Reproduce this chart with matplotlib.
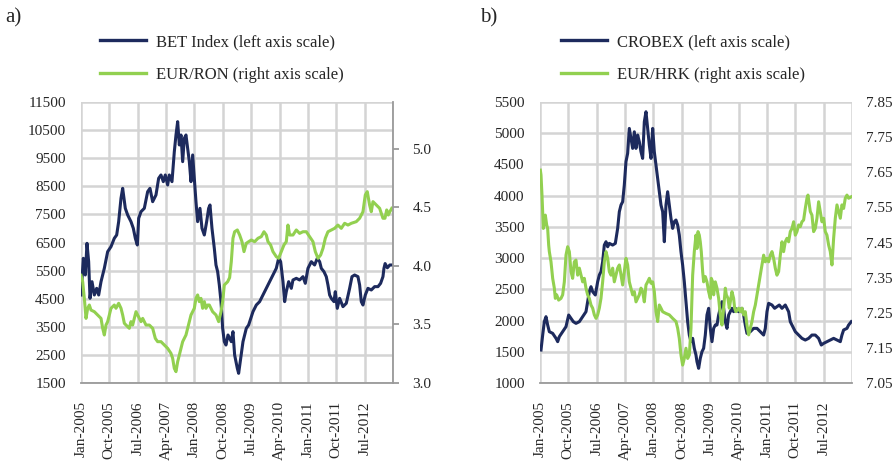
import matplotlib
matplotlib.use("Agg")
import matplotlib.pyplot as plt
from matplotlib.lines import Line2D

plt.rcParams['font.family'] = ['Liberation Serif', 'DejaVu Serif']

# ---------------- data (x = months since Jan-2005) ----------------
tick_labels = ['Jan-2005', 'Oct-2005', 'Jul-2006', 'Apr-2007', 'Jan-2008', 'Oct-2008',
               'Jul-2009', 'Apr-2010', 'Jan-2011', 'Oct-2011', 'Jul-2012']

bet_t = [0.00, 0.74, 1.37, 1.90, 2.43, 2.86, 3.49, 4.23, 4.97, 5.61, 6.35, 7.40, 8.46, 9.52,
         10.57, 11.32, 11.95, 12.69, 13.22, 14.06, 14.81, 15.86, 16.60, 17.24, 17.87, 18.30,
         19.04, 20.09, 21.15, 21.89, 22.74, 23.79, 24.64, 25.38, 26.12, 26.75, 27.50, 28.02,
         28.87, 29.61, 30.14, 30.67, 31.20, 31.73, 32.26, 32.78, 33.31, 33.84, 34.37, 34.90,
         35.43, 35.96, 36.48, 37.01, 37.75, 38.39, 39.13, 39.87, 40.50, 40.93, 41.56, 42.30,
         42.83, 43.36, 43.89, 44.42, 44.95, 45.47, 46.00, 46.64, 47.69, 48.22, 48.75, 49.60,
         50.02, 50.66, 51.40, 52.45, 53.19, 54.57, 55.63, 56.68, 57.74, 58.80, 59.86, 60.91,
         61.97, 62.71, 63.35, 64.09, 64.62, 65.14, 65.89, 66.73, 67.26, 68.32, 69.37, 70.43,
         71.17, 72.02, 73.08, 74.13, 74.98, 75.72, 76.25, 77.09, 77.83, 78.36, 78.89, 79.42,
         80.27, 80.69, 81.32, 82.07, 83.12, 84.18, 85.24, 85.98, 86.82, 87.88, 88.41, 88.94,
         89.47, 90.21, 91.05, 92.11, 93.17, 94.23, 95.07, 95.81, 96.13, 96.50, 97.20, 98.00,
         98.60]
bet_v = [4632, 5938, 5344, 6471, 5818, 4513, 5106, 4632, 4869, 4632, 5106, 5581, 6174, 6352,
         6649, 6767, 7242, 8072, 8428, 7716, 7479, 7242, 7005, 6649, 6411, 7361,
         7597, 7716, 8309, 8428, 7953, 8191, 8784, 8903, 8665, 8903, 8547, 8903,
         8665, 9733, 10326, 10801, 9971, 10326, 9377, 10208, 10326, 9852, 9377, 8665,
         9615, 8784, 7953, 7242, 7716, 7005, 6767, 7242, 7716, 7835, 7005, 6293,
         5700, 5462, 4988, 4395, 3445, 2971, 2852, 3208, 2971, 3327, 2497, 2022,
         1844, 2378, 2971, 3445, 3564, 4039, 4276, 4395, 4632, 4869, 5106, 5344,
         5581, 5938, 5818, 5106, 4395, 4750, 5106, 4869, 5166, 5225, 5166, 5284,
         5047, 5581, 5818, 5700, 5938, 5818, 5581, 5462, 5284, 4988, 4632, 4513,
         4395, 4750, 4157, 4513, 4217, 4336, 4869, 5284, 5344, 5284, 4988, 4395,
         4276, 4632, 4869, 4810, 4929, 4929, 5047, 5284, 5581, 5750, 5600, 5700,
         5700]

ron_t = [0.00, 0.53, 1.06, 1.59, 2.12, 2.64, 3.17, 4.23, 5.29, 6.35, 6.88, 7.40, 7.93, 8.46,
         8.99, 9.52, 10.05, 10.57, 11.10, 11.95, 12.69, 13.22, 13.75, 14.28, 15.33, 15.86,
         16.39, 16.92, 17.45, 17.98, 18.51, 19.04, 19.57, 20.62, 21.68, 22.74, 23.58, 24.32,
         25.38, 26.44, 27.50, 28.55, 29.08, 29.61, 30.14, 30.67, 31.20, 32.26, 33.31, 33.84,
         34.37, 34.90, 35.43, 35.96, 36.48, 37.01, 37.54, 38.07, 38.60, 39.13, 39.66, 40.18,
         40.71, 41.24, 41.77, 42.83, 43.68, 44.42, 44.95, 45.47, 46.53, 47.16, 47.69, 48.22,
         48.75, 49.60, 50.34, 51.08, 51.72, 52.45, 53.19, 54.04, 55.10, 56.16, 57.21, 58.06,
         58.80, 59.33, 60.17, 60.91, 61.97, 62.71, 63.56, 64.40, 65.14, 65.67, 66.20, 67.26,
         68.32, 69.37, 70.43, 71.49, 72.55, 73.61, 74.35, 75.19, 76.04, 76.78, 77.52, 78.36,
         79.42, 80.48, 81.53, 82.59, 83.65, 84.71, 85.77, 87.35, 88.41, 89.47, 90.21, 90.84,
         91.58, 92.11, 92.64, 93.70, 94.76, 95.81, 96.45, 97.00, 97.50, 98.00, 98.60]
ron_v = [3.920, 3.865, 3.723, 3.552, 3.638, 3.666, 3.623, 3.609, 3.581, 3.552, 3.467, 3.410,
         3.495, 3.524, 3.581, 3.638, 3.652, 3.666, 3.638, 3.681, 3.638, 3.581, 3.510, 3.495,
         3.467, 3.524, 3.495, 3.552, 3.609, 3.581, 3.552, 3.524, 3.552, 3.495, 3.495, 3.467,
         3.381, 3.353, 3.353, 3.325, 3.296, 3.253, 3.211, 3.125, 3.097, 3.182, 3.239, 3.353,
         3.410, 3.467, 3.524, 3.581, 3.609, 3.638, 3.723, 3.752, 3.695, 3.723, 3.638, 3.695,
         3.638, 3.666, 3.666, 3.638, 3.609, 3.581, 3.524, 3.609, 3.695, 3.837, 3.865, 3.900,
         4.036, 4.236, 4.292, 4.307, 4.264, 4.207, 4.122, 4.193, 4.207, 4.221, 4.207, 4.236,
         4.250, 4.292, 4.264, 4.207, 4.179, 4.122, 4.079, 4.065, 4.122, 4.179, 4.207, 4.349,
         4.264, 4.264, 4.307, 4.278, 4.292, 4.292, 4.250, 4.207, 4.122, 4.065, 4.093, 4.150,
         4.236, 4.292, 4.307, 4.321, 4.349, 4.321, 4.364, 4.349, 4.364, 4.378, 4.407, 4.463,
         4.606, 4.634, 4.520, 4.463, 4.549, 4.520, 4.492, 4.407, 4.407, 4.478, 4.435, 4.463,
         4.492]

crobex_t = [0.32, 0.85, 1.37, 1.90, 2.43, 2.96, 4.02, 5.08, 5.61, 6.13, 7.19, 8.25, 9.10, 9.84,
            10.57, 11.42, 12.48, 13.54, 14.59, 15.12, 15.65, 16.18, 16.71, 17.55, 18.30, 18.82,
            19.35, 19.88, 20.41, 20.94, 21.47, 22.00, 23.05, 23.90, 24.64, 25.17, 25.70, 26.23,
            26.75, 27.28, 27.81, 28.34, 28.87, 29.40, 29.93, 30.46, 30.99, 31.51, 32.04, 32.57,
            33.10, 33.63, 34.16, 34.69, 35.22, 35.75, 36.27, 36.80, 37.33, 37.86, 38.39, 38.92,
            39.45, 39.97, 40.50, 41.03, 41.56, 42.09, 42.62, 43.15, 43.68, 44.20, 44.73, 45.26,
            45.79, 46.32, 46.85, 47.38, 47.91, 48.44, 48.96, 49.49, 49.81, 50.34, 50.86, 51.39,
            51.92, 52.45, 52.98, 53.51, 54.04, 54.57, 55.10, 55.63, 56.16, 56.68, 57.21, 57.74,
            58.27, 58.80, 59.33, 59.86, 60.38, 60.91, 61.44, 61.97, 63.03, 64.09, 64.62, 65.14,
            65.67, 66.73, 67.79, 68.85, 69.90, 70.96, 71.49, 72.02, 72.55, 73.61, 74.45, 75.19,
            75.93, 76.78, 77.83, 78.89, 79.42, 79.95, 81.01, 82.06, 83.12, 84.18, 85.24, 86.29,
            87.35, 88.41, 89.26, 90.00, 91.05, 92.11, 93.17, 94.23, 95.29, 95.81, 96.34, 97.40,
            97.93, 98.77]
crobex_v = [1528, 1768, 1982, 2062, 1929, 1822, 1795, 1715, 1662, 1742, 1822, 1902, 2089, 2035,
            1982, 1955, 1982, 2062, 2142, 2302, 2462, 2542, 2462, 2409, 2622, 2729,
            2782, 2942, 3209, 3262, 3182, 3236, 3209, 3236, 3476, 3743, 3850, 3903,
            4170, 4544, 4677, 5077, 4917, 4757, 5023, 4757, 4971, 4864, 4704, 4597,
            5183, 5344, 5077, 4810, 4597, 5077, 4704, 4490, 4277, 4063, 3850, 3743,
            3262, 3850, 4063, 3850, 3636, 3476, 3583, 3610, 3530, 3369, 3102, 2889,
            2622, 2302, 1982, 1768, 1662, 1715, 1555, 1448, 1341, 1235, 1395, 1501,
            1555, 1768, 2089, 2196, 1875, 1662, 1875, 1929, 1929, 2089, 2196, 2302,
            2196, 1982, 1875, 2089, 2142, 2196, 2142, 2196, 2142, 2196, 2089, 1929,
            1795, 1822, 1875, 1875, 1822, 1768, 1875, 2142, 2276, 2249, 2196, 2222,
            2249, 2196, 2249, 2142, 1982, 1929, 1822, 1768, 1715, 1688, 1715, 1768,
            1768, 1715, 1608, 1635, 1662, 1688, 1715, 1688, 1662, 1768, 1849, 1875,
            1929, 1982]

hrk_t = [0.11, 0.32, 0.63, 0.85, 1.06, 1.37, 1.69, 2.12, 2.43, 2.75, 2.96, 3.49, 4.02, 4.55,
         4.86, 5.29, 5.92, 6.66, 7.19, 7.72, 8.25, 8.78, 9.31, 9.84, 10.36, 10.89, 11.42,
         11.95, 12.48, 13.01, 13.54, 14.06, 14.59, 15.12, 15.65, 16.18, 16.71, 17.24, 17.77,
         18.30, 18.82, 19.35, 19.88, 20.41, 20.94, 21.47, 22.00, 22.53, 23.05, 23.58, 24.11,
         24.64, 25.17, 25.70, 26.23, 26.75, 27.28, 27.81, 28.34, 28.87, 29.40, 29.93, 30.46,
         30.99, 31.51, 32.04, 32.57, 33.10, 33.63, 34.16, 34.69, 35.22, 35.75, 36.27, 36.80,
         37.33, 37.86, 38.39, 38.92, 39.97, 41.03, 42.09, 43.15, 43.68, 44.20, 44.73, 45.26,
         45.79, 46.32, 46.85, 47.38, 47.91, 48.44, 48.96, 49.49, 49.81, 50.13, 50.55, 50.86,
         51.18, 51.61, 51.92, 52.45, 52.98, 53.51, 54.04, 54.36, 54.78, 55.10, 55.63, 56.16,
         56.68, 57.21, 57.74, 58.27, 58.80, 59.12, 59.64, 60.07, 60.38, 60.91, 61.44, 61.76,
         62.18, 63.03, 63.56, 64.09, 64.62, 65.14, 65.67, 66.20, 66.73, 67.26, 67.79, 68.32,
         68.85, 69.37, 69.90, 70.43, 70.96, 71.49, 72.02, 72.55, 73.08, 73.61, 74.13, 74.66,
         75.19, 75.72, 76.25, 76.78, 77.30, 77.83, 78.36, 78.89, 79.42, 79.95, 80.48, 81.01,
         81.53, 82.06, 82.59, 83.12, 83.65, 84.18, 84.71, 85.03, 85.45, 85.77, 86.29, 86.82,
         87.35, 87.88, 88.41, 88.94, 89.47, 90.00, 90.52, 91.05, 91.58, 92.11, 92.64, 93.17,
         93.70, 94.23, 94.76, 95.29, 95.81, 96.34, 96.87, 97.40, 97.93, 98.77]
hrk_v = [7.656, 7.642, 7.585, 7.538, 7.490, 7.509, 7.528, 7.500, 7.490, 7.443, 7.424, 7.395,
         7.348, 7.320, 7.291, 7.301, 7.286, 7.291, 7.301, 7.338, 7.414, 7.438, 7.424, 7.367,
         7.348, 7.395, 7.400, 7.357, 7.377, 7.357, 7.338, 7.348, 7.320, 7.301, 7.291, 7.272,
         7.263, 7.244, 7.234, 7.244, 7.263, 7.291, 7.338, 7.395, 7.424, 7.405, 7.367, 7.357,
         7.377, 7.338, 7.357, 7.377, 7.386, 7.357, 7.329, 7.367, 7.405, 7.386, 7.338, 7.320,
         7.301, 7.310, 7.281, 7.291, 7.301, 7.320, 7.310, 7.281, 7.329, 7.338, 7.348, 7.334,
         7.338, 7.310, 7.253, 7.225, 7.272, 7.263, 7.253, 7.248, 7.244, 7.234, 7.225, 7.206,
         7.177, 7.130, 7.101, 7.120, 7.149, 7.120, 7.130, 7.206, 7.357, 7.424, 7.471, 7.433,
         7.481, 7.471, 7.452, 7.424, 7.367, 7.338, 7.353, 7.338, 7.310, 7.291, 7.348, 7.338,
         7.301, 7.338, 7.320, 7.291, 7.244, 7.215, 7.263, 7.320, 7.301, 7.291, 7.263, 7.281,
         7.310, 7.291, 7.263, 7.253, 7.263, 7.253, 7.263, 7.244, 7.253, 7.215, 7.187, 7.206,
         7.225, 7.253, 7.272, 7.301, 7.329, 7.357, 7.386, 7.414, 7.395, 7.405, 7.395, 7.414,
         7.424, 7.405, 7.377, 7.357, 7.367, 7.414, 7.452, 7.424, 7.452, 7.462, 7.452, 7.481,
         7.490, 7.509, 7.471, 7.481, 7.500, 7.495, 7.509, 7.514, 7.547, 7.576, 7.585, 7.557,
         7.538, 7.528, 7.481, 7.490, 7.519, 7.566, 7.538, 7.509, 7.519, 7.481, 7.471, 7.443,
         7.424, 7.386, 7.462, 7.519, 7.557, 7.538, 7.519, 7.557, 7.547, 7.576, 7.585, 7.576,
         7.580]

bet_label = 'BET Index (left axis scale)'
ron_label = 'EUR/RON (right axis scale)'
crobex_label = 'CROBEX (left axis scale)'
hrk_label = 'EUR/HRK (right axis scale)'

bet_ticks = list(range(1500, 11501, 1000))
ron_ticks = [3.0, 3.5, 4.0, 4.5, 5.0]
crobex_ticks = list(range(1000, 5501, 500))
hrk_ticks = [7.05, 7.15, 7.25, 7.35, 7.45, 7.55, 7.65, 7.75, 7.85]
x_ticks = list(range(0, 100, 9))

# ---------------- styling ----------------
NAVY = '#1d2a5d'
GREEN = '#92d050'
GRID = '#d4d4d4'
AXIS = '#9a9a9a'
TXT = '#262626'
LW = 2.2
TICK_FS = 11
LEG_FS = 12

fig = plt.figure(figsize=(8.96, 4.71), dpi=100)
W, H = 896.0, 471.0


def make_panel(left_px, lt, lv, rt, rv, lticks, rticks, rfmt,
               rlim, right_spine, labels, legend_xy, tag, tag_x):
    ax = fig.add_axes([left_px / W, 88 / H, 312 / W, 281 / H])
    ax.set_xlim(0, 99)
    ax.set_ylim(lticks[0], lticks[-1])
    ax.set_yticks(lticks)
    ax.set_xticks(x_ticks)
    ax.set_xticklabels(tick_labels + [''], rotation=90, fontsize=TICK_FS, color=TXT)
    ax.tick_params(axis='x', length=0, pad=13)
    ax.tick_params(axis='y', length=0, pad=11, labelsize=TICK_FS, labelcolor=TXT)
    ax.set_axisbelow(True)
    ax.grid(True, axis='both', color=GRID, linewidth=1.8, linestyle='-')
    for s in ['top', 'left', 'right']:
        ax.spines[s].set_visible(False)
    ax.spines['bottom'].set_color(AXIS)
    ax.spines['bottom'].set_linewidth(1.3)
    ax.spines['bottom'].set_zorder(5)
    ax.plot(lt, lv, color=NAVY, lw=LW, solid_joinstyle='round', zorder=2)

    ax2 = ax.twinx()
    ax2.patch.set_visible(False)
    ax2.set_xlim(0, 99)
    ax2.set_ylim(*rlim)
    ax2.set_yticks(rticks)
    ax2.set_yticklabels([rfmt % v for v in rticks])
    for s in ['top', 'left', 'bottom']:
        ax2.spines[s].set_visible(False)
    if right_spine:
        ax2.spines['right'].set_color(AXIS)
        ax2.spines['right'].set_linewidth(1.3)
        ax2.tick_params(axis='y', length=4, width=1.3, color=AXIS, pad=10,
                        labelsize=TICK_FS, labelcolor=TXT)
    else:
        ax2.spines['right'].set_visible(False)
        ax2.tick_params(axis='y', length=0, pad=10, labelsize=TICK_FS, labelcolor=TXT)
    ax2.plot(rt, rv, color=GREEN, lw=LW, solid_joinstyle='round', zorder=2)

    h1 = Line2D([], [], color=NAVY, lw=2.4)
    h2 = Line2D([], [], color=GREEN, lw=2.4)
    fig.legend([h1, h2], labels, loc='upper left',
               bbox_to_anchor=(legend_xy[0] / W, 1 - legend_xy[1] / H),
               frameon=False, fontsize=LEG_FS, handlelength=2.75, handletextpad=0.6,
               labelspacing=1.0, borderpad=0, borderaxespad=0, labelcolor=TXT)
    fig.text(tag_x / W, 1 - 18 / H, tag, fontsize=15, color=TXT, va='center', ha='left')
    return ax, ax2


make_panel(81, bet_t, bet_v, ron_t, ron_v, bet_ticks, ron_ticks, '%.1f',
           (3.0, 5.4), True, [bet_label, ron_label], (100, 34), 'a)', 5)
make_panel(540, crobex_t, crobex_v, hrk_t, hrk_v, crobex_ticks, hrk_ticks, '%.2f',
           (7.05, 7.85), False, [crobex_label, hrk_label], (561, 34), 'b)', 480)

fig.savefig('out.png', dpi=100)
